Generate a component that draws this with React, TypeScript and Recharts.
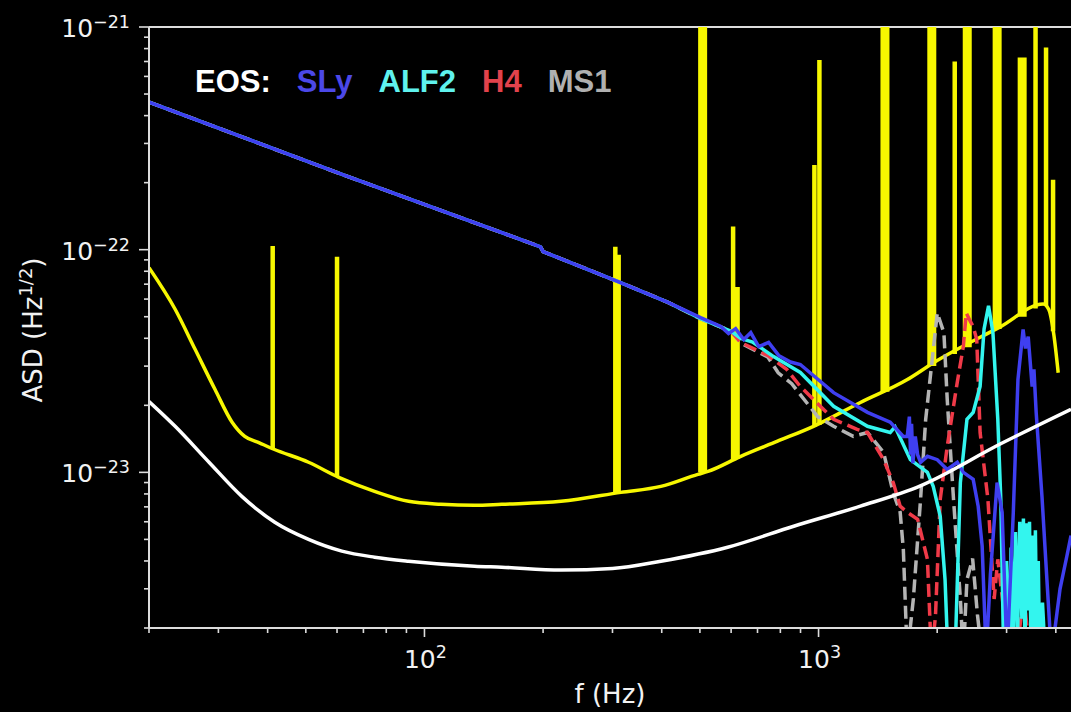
import { LineChart, Line, XAxis, YAxis, ReferenceLine } from 'recharts';

type Pt = [number, number];
type Spike = [number, number, number]; // frequency, base ASD, peak ASD

// frequency ticks (Hz) and ASD ticks (Hz^-1/2)
const xTicks = [20, 30, 40, 50, 60, 70, 80, 90, 100, 200, 300, 400, 500, 600, 700, 800, 900, 1000, 2000, 3000, 4000];
const yTicks = [
  2e-24, 3e-24, 4e-24, 5e-24, 6e-24, 7e-24, 8e-24, 9e-24,
  1e-23, 2e-23, 3e-23, 4e-23, 5e-23, 6e-23, 7e-23, 8e-23, 9e-23,
  1e-22, 2e-22, 3e-22, 4e-22, 5e-22, 6e-22, 7e-22, 8e-22, 9e-22,
  1e-21,
];

const legendItems = [
  { name: 'EOS:', color: '#ffffff' },
  { name: 'SLy', color: '#4b48e8' },
  { name: 'ALF2', color: '#5ff2ee' },
  { name: 'H4', color: '#e2424c' },
  { name: 'MS1', color: '#b0b0b0' },
];

// design sensitivity (white)
const whiteCurve: Pt[] = [
  [20, 2.08e-23], [23.3, 1.61e-23], [28.4, 1.11e-23], [34.4, 7.8e-24], [41.7, 5.97e-24],
  [50.8, 5.0e-24], [61.7, 4.43e-24], [74.7, 4.16e-24], [91.1, 3.99e-24], [134, 3.79e-24],
  [157, 3.75e-24], [222, 3.64e-24], [300, 3.7e-24], [398, 3.99e-24], [588, 4.61e-24],
  [865, 5.73e-24], [1277, 7.05e-24], [1813, 8.7e-24], [2890, 1.34e-23], [4371, 1.92e-23],
];

// detector noise floor (yellow)
const yellowCurve: Pt[] = [
  [20, 8.3e-23], [23.3, 5.4e-23], [26.2, 3.56e-23], [29.4, 2.36e-23], [32.5, 1.68e-23],
  [35.0, 1.45e-23], [38.0, 1.36e-23], [41.5, 1.27e-23], [50.8, 1.11e-23], [60.6, 9.5e-24],
  [74.7, 8.22e-24], [91.1, 7.41e-24], [110, 7.19e-24], [134, 7.11e-24], [157, 7.19e-24],
  [222, 7.41e-24], [315, 8.13e-24], [398, 8.65e-24], [494, 9.8e-24], [524, 1.01e-23],
  [635, 1.18e-23], [787, 1.38e-23], [971, 1.61e-23], [1277, 2.06e-23], [1680, 2.61e-23],
  [1954, 3.1e-23], [2890, 4.5e-23], [3717, 5.7e-23], [3836, 5.4e-23], [3950, 4.2e-23],
  [4056, 2.8e-23],
];

// narrow instrumental lines
const thinLines: Spike[] = [
  [41.2, 1.28e-23, 1.04e-22], [60, 9.6e-24, 9.3e-23], [305, 8.0e-24, 1.03e-22],
  [311, 8.1e-24, 9.5e-23], [607, 1.13e-23, 1.27e-22], [623, 1.15e-23, 6.8e-23],
  [976, 1.6e-23, 2.4e-22], [1005, 1.63e-23, 7.1e-22], [2216, 3.4e-23, 7e-22],
  [3553, 5.45e-23, 1e-20], [3778, 5.6e-23, 8.1e-22], [3936, 4.3e-23, 2.06e-22],
];

// broad instrumental lines
const thickLines: Spike[] = [
  [508, 1.0e-23, 1e-20], [1474, 2.3e-23, 1e-20], [1938, 3.0e-23, 1e-20],
  [2384, 3.65e-23, 1e-20], [2839, 4.4e-23, 1e-20], [3286, 5.0e-23, 7.3e-22],
];

const slyCurve: Pt[] = [
  [20, 4.6e-22], [63, 2.15e-22], [197, 1.03e-22], [200, 9.8e-23], [310, 7.19e-23],
  [415, 5.8e-23], [502, 4.95e-23], [565, 4.52e-23], [591, 4.2e-23], [616, 4.42e-23],
  [646, 3.95e-23], [673, 4.24e-23], [705, 3.67e-23], [747, 3.83e-23], [792, 3.35e-23],
  [849, 3.13e-23], [899, 3.05e-23], [1092, 2.28e-23], [1331, 1.86e-23], [1520, 1.68e-23],
  [1641, 1.45e-23], [1679, 1.45e-23], [1700, 1.78e-23], [1712, 1.2e-23], [1722, 1.65e-23],
  [1735, 1.1e-23], [1760, 1.45e-23], [1784, 1.2e-23], [1815, 1.11e-23], [1889, 1.18e-23],
  [2001, 1.14e-23], [2121, 1.03e-23], [2249, 1.11e-23], [2330, 1.0e-23], [2468, 9.3e-24],
  [2541, 7.05e-24], [2601, 4.66e-24], [2663, 1.5e-24], [2730, 3.5e-24], [2838, 9.0e-24],
  [2923, 6.6e-24], [3008, 1.5e-24], [3120, 6.6e-24], [3206, 2.61e-23], [3304, 4.38e-23],
  [3350, 3.6e-23], [3404, 4.07e-23], [3483, 2.43e-23], [3520, 2.9e-23], [3566, 1.86e-23],
  [3689, 7.8e-24], [3797, 3.3e-24], [3900, 1.5e-24], [4100, 3.0e-24], [4266, 4.2e-24],
  [4371, 5.2e-24],
];

const alf2Curve: Pt[] = [
  [20, 4.6e-22], [63, 2.15e-22], [197, 1.03e-22], [200, 9.8e-23], [310, 7.19e-23],
  [415, 5.8e-23], [502, 4.9e-23], [600, 4.3e-23], [635, 3.99e-23], [680, 3.85e-23],
  [769, 3.31e-23], [899, 2.81e-23], [1092, 1.98e-23], [1331, 1.61e-23], [1520, 1.51e-23],
  [1564, 1.6e-23], [1710, 1.14e-23], [1889, 1.0e-23], [1954, 8.65e-24], [2036, 6.35e-24],
  [2094, 3.3e-24], [2130, 1.5e-24], [2220, 1.5e-24], [2290, 9.0e-24], [2380, 1.73e-23],
  [2468, 1.86e-23], [2570, 2.43e-23], [2630, 4.4e-23], [2700, 5.6e-23], [2770, 4.24e-23],
  [2850, 1.73e-23], [2900, 7.6e-24], [2950, 1.5e-24], [3000, 4.0e-24], [3040, 1.6e-24],
  [3080, 4.6e-24], [3120, 1.6e-24], [3160, 5.4e-24], [3200, 1.9e-24], [3240, 6.0e-24],
  [3280, 2.2e-24], [3310, 6.2e-24], [3340, 1.6e-24], [3370, 5.9e-24], [3400, 2.4e-24],
  [3430, 6.0e-24], [3460, 1.6e-24], [3490, 5.2e-24], [3520, 2.0e-24], [3550, 5.5e-24],
  [3580, 1.6e-24], [3610, 4.0e-24], [3640, 1.5e-24], [3700, 2.6e-24], [3760, 1.5e-24],
];

const h4Curve: Pt[] = [
  [20, 4.6e-22], [63, 2.15e-22], [197, 1.03e-22], [200, 9.8e-23], [310, 7.19e-23],
  [415, 5.8e-23], [502, 4.9e-23], [600, 4.3e-23], [635, 3.83e-23], [743, 3.35e-23],
  [830, 2.9e-23], [899, 2.43e-23], [1092, 1.73e-23], [1253, 1.56e-23], [1331, 1.51e-23],
  [1462, 1.14e-23], [1547, 9.0e-24], [1611, 7.05e-24], [1679, 6.62e-24], [1784, 6.15e-24],
  [1889, 4.07e-24], [1934, 1.5e-24], [1980, 2.26e-24], [2036, 7.57e-24], [2121, 1.31e-23],
  [2249, 2.54e-23], [2330, 3.67e-23], [2370, 5.2e-23], [2430, 4.75e-23], [2468, 4.52e-23],
  [2520, 3.95e-23], [2570, 1.51e-23], [2690, 7.57e-24], [2790, 2.7e-24], [2850, 4.07e-24],
  [2950, 2.4e-24], [3010, 2.7e-24], [3100, 2.2e-24], [3180, 1.5e-24], [3260, 2.2e-24],
  [3330, 2.6e-24], [3440, 1.5e-24],
];

const ms1Curve: Pt[] = [
  [20, 4.6e-22], [63, 2.15e-22], [197, 1.03e-22], [200, 9.8e-23], [310, 7.19e-23],
  [415, 5.8e-23], [502, 4.9e-23], [600, 4.3e-23], [635, 3.8e-23], [743, 3.3e-23],
  [790, 2.8e-23], [855, 2.5e-23], [995, 1.78e-23], [1092, 1.61e-23], [1225, 1.45e-23],
  [1331, 1.51e-23], [1462, 1.23e-23], [1547, 8.1e-24], [1611, 6.62e-24], [1641, 4.52e-24],
  [1679, 1.5e-24], [1740, 2.7e-24], [1815, 7.57e-24], [1870, 1.73e-23], [1934, 2.99e-23],
  [2001, 5.2e-23], [2080, 4.24e-23], [2121, 2.12e-23], [2200, 7.6e-24], [2290, 2.7e-24],
  [2330, 1.5e-24], [2380, 3.3e-24], [2460, 4.1e-24], [2530, 2.3e-24], [2600, 1.5e-24],
];

const rows = (pts: Pt[]) => pts.map(([f, asd]) => ({ f, asd }));
// each spike becomes a vertical segment; the null breaks the line between spikes
const spikeRows = (spikes: Spike[]) =>
  spikes.flatMap(([f, base, peak]) => [
    { f, asd: base },
    { f, asd: peak },
    { f, asd: null },
  ]);

const AXIS = '#dcdcdc';
const TEXT = '#f2f2f2';
const YELLOW = '#f7f700';
const FONT = '"DejaVu Sans", sans-serif';

const expText = (v: number) => {
  const e = Math.round(Math.log10(v));
  return e < 0 ? `\u2212${-e}` : `${e}`;
};
const isMajor = (v: number) => Math.abs(Math.log10(v) - Math.round(Math.log10(v))) < 1e-6;

const XTick = (props: any) => {
  const { x, y, payload } = props;
  const major = isMajor(payload.value);
  return (
    <g>
      <line x1={x} y1={y} x2={x} y2={y + (major ? 9 : 5)} stroke={AXIS} strokeWidth={1.6} />
      {major && (
        <text x={x + 1} y={y + 40} textAnchor="middle" fill={TEXT} fontSize={25} fontFamily={FONT}>
          <tspan>10</tspan>
          <tspan dy={-10} fontSize={17.5}>{expText(payload.value)}</tspan>
        </text>
      )}
    </g>
  );
};

const YTick = (props: any) => {
  const { x, y, payload } = props;
  const major = isMajor(payload.value);
  return (
    <g>
      <line x1={x} y1={y} x2={x - (major ? 10 : 5)} y2={y} stroke={AXIS} strokeWidth={1.6} />
      {major && (
        <text x={x - 19} y={y + 10} textAnchor="end" fill={TEXT} fontSize={25} fontFamily={FONT}>
          <tspan>10</tspan>
          <tspan dy={-9} fontSize={17.5}>{expText(payload.value)}</tspan>
        </text>
      )}
    </g>
  );
};

export default function App() {
  return (
    <div style={{ position: 'absolute', left: 0, top: 0, width: 1071, height: 712, background: '#000', overflow: 'hidden' }}>
      <LineChart width={1071} height={712} margin={{ top: 27, right: 0, bottom: 0, left: 0 }}>
        <XAxis
          type="number"
          dataKey="f"
          scale="log"
          domain={[20, 4371]}
          allowDataOverflow
          ticks={xTicks}
          interval={0}
          tick={<XTick />}
          tickLine={false}
          tickSize={0}
          tickMargin={0}
          height={84}
          axisLine={{ stroke: AXIS, strokeWidth: 2 }}
        />
        <YAxis
          type="number"
          scale="log"
          domain={[2e-24, 1e-21]}
          allowDataOverflow
          ticks={yTicks}
          interval={0}
          tick={<YTick />}
          tickLine={false}
          tickSize={0}
          tickMargin={0}
          width={149}
          axisLine={{ stroke: AXIS, strokeWidth: 2 }}
        />
        <ReferenceLine y={1e-21} stroke={AXIS} strokeWidth={2} />
        <Line data={rows(yellowCurve)} dataKey="asd" type="monotone" stroke={YELLOW} strokeWidth={3.5} dot={false} isAnimationActive={false} />
        <Line data={spikeRows(thinLines)} dataKey="asd" type="linear" stroke={YELLOW} strokeWidth={4.5} dot={false} isAnimationActive={false} />
        <Line data={spikeRows(thickLines)} dataKey="asd" type="linear" stroke={YELLOW} strokeWidth={9} dot={false} isAnimationActive={false} />
        <Line data={rows(ms1Curve)} dataKey="asd" type="linear" stroke="#b4b4b4" strokeWidth={3.5} strokeDasharray="13 6" dot={false} isAnimationActive={false} />
        <Line data={rows(h4Curve)} dataKey="asd" type="linear" stroke="#f03a48" strokeWidth={3.5} strokeDasharray="13 6" dot={false} isAnimationActive={false} />
        <Line data={rows(alf2Curve)} dataKey="asd" type="linear" stroke="#33f5ee" strokeWidth={3.5} dot={false} isAnimationActive={false} />
        <Line data={rows(slyCurve)} dataKey="asd" type="linear" stroke="#3f3ff0" strokeWidth={3.5} dot={false} isAnimationActive={false} />
        <Line data={rows(whiteCurve)} dataKey="asd" type="monotone" stroke="#ffffff" strokeWidth={3.5} dot={false} isAnimationActive={false} />
      </LineChart>

      <svg width={1071} height={712} style={{ position: 'absolute', left: 0, top: 0, pointerEvents: 'none' }}>
        <text x={610} y={703} textAnchor="middle" fill={TEXT} fontSize={26} fontFamily={FONT}>f (Hz)</text>
        <text x={42} y={330} textAnchor="middle" fill={TEXT} fontSize={26} fontFamily={FONT} transform="rotate(-90 42 330)">
          <tspan>ASD (Hz</tspan>
          <tspan dy={-10} fontSize={18}>1/2</tspan>
          <tspan dy={10}>)</tspan>
        </text>
      </svg>

      <div
        style={{
          position: 'absolute',
          left: 195,
          top: 66,
          fontFamily: '"Liberation Sans", Arial, sans-serif',
          fontWeight: 'bold',
          fontSize: 31,
          lineHeight: 1,
          whiteSpace: 'nowrap',
        }}
      >
        {legendItems.map((item) => (
          <span key={item.name} style={{ color: item.color, marginRight: 26 }}>
            {item.name}
          </span>
        ))}
      </div>
    </div>
  );
}
